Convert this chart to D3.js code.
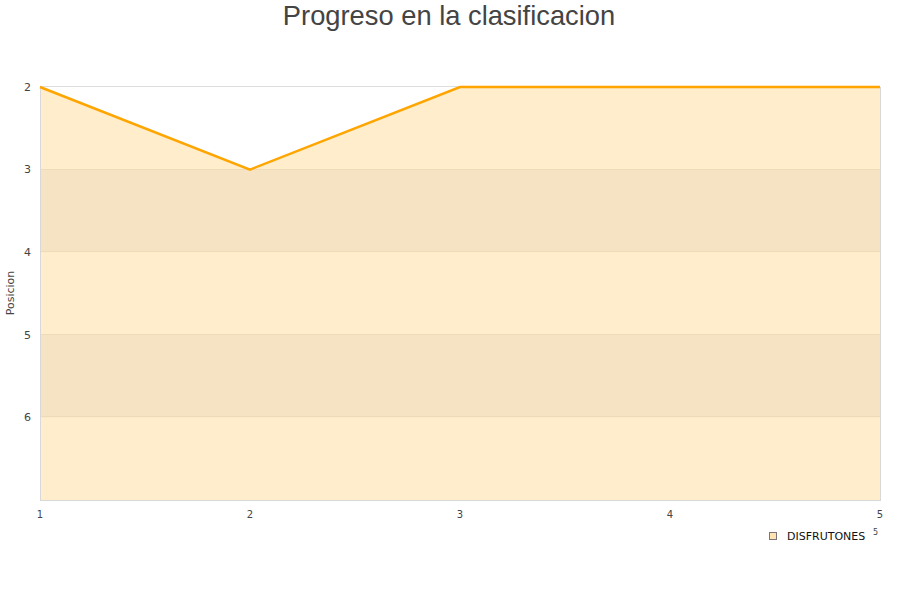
<!DOCTYPE html>
<html>
<head>
<meta charset="utf-8">
<script src="https://cdn.jsdelivr.net/npm/d3@7"></script>
<style>
  body { margin: 0; background: #fff; }
</style>
</head>
<body>
<div id="chart"></div>
<script>
var jornadas = [1, 2, 3, 4, 5];
var posiciones = [2, 3, 2, 2, 2];
var serieNombre = "DISFRUTONES";
var yTicks = [2, 3, 4, 5, 6];
var yDomain = [2, 7];

var width = 900, height = 600;
var margin = { top: 87, right: 20, bottom: 100, left: 40 };
var plotW = width - margin.left - margin.right,
    plotH = height - margin.top - margin.bottom;

var svg = d3.select("#chart").append("svg")
    .attr("width", width)
    .attr("height", height);

svg.append("text")
    .attr("x", 449)
    .attr("y", 25)
    .attr("text-anchor", "middle")
    .style("font-family", "'Liberation Sans', Arial, sans-serif")
    .style("font-size", "27.3px")
    .style("fill", "#444")
    .text("Progreso en la clasificacion");

var g = svg.append("g").attr("transform", "translate(" + margin.left + "," + margin.top + ")");

var x = d3.scaleLinear().domain(d3.extent(jornadas)).range([0, plotW]);
var y = d3.scaleLinear().domain(yDomain).range([0, plotH]);

var data = jornadas.map(function (j, i) { return { j: j, p: posiciones[i] }; });

// area under the line
var area = d3.area()
    .x(function (d) { return x(d.j); })
    .y0(y(yDomain[1]))
    .y1(function (d) { return y(d.p); });

g.append("path")
    .datum(data)
    .attr("d", area)
    .attr("fill", "#ffedcc");

// darker bands (3-4, 5-6), only inside the filled area
var clip = g.append("clipPath").attr("id", "areaclip");
clip.append("path").datum(data).attr("d", area);

g.append("g").attr("clip-path", "url(#areaclip)")
    .selectAll("rect")
    .data(yTicks.filter(function (t, i) { return i % 2 == 1; }))
    .enter().append("rect")
    .attr("x", 0)
    .attr("width", plotW)
    .attr("y", function (d) { return y(d); })
    .attr("height", function (d) { return y(d + 1) - y(d); })
    .attr("fill", "#f6e3c3");

// grid lines
g.selectAll(".grid")
    .data(yTicks)
    .enter().append("line")
    .attr("class", "grid")
    .attr("x1", 0).attr("x2", plotW)
    .attr("y1", function (d) { return Math.round(y(d)) - 0.5; })
    .attr("y2", function (d) { return Math.round(y(d)) - 0.5; })
    .attr("stroke", function (d) { return d == yDomain[0] ? "#dddddd" : "#eedbb8"; })
    .attr("stroke-width", 1);

// border left / right / bottom
g.append("line").attr("x1", 0.5).attr("x2", 0.5).attr("y1", 0).attr("y2", plotH)
    .attr("stroke", "#d8d8d8");
g.append("line").attr("x1", plotW + 0.5).attr("x2", plotW + 0.5).attr("y1", 0).attr("y2", plotH)
    .attr("stroke", "#d8d8d8");
g.append("line").attr("x1", 0).attr("x2", plotW + 1).attr("y1", plotH + 0.5).attr("y2", plotH + 0.5)
    .attr("stroke", "#d8d8d8");

// line
var line = d3.line()
    .x(function (d) { return x(d.j); })
    .y(function (d) { return y(d.p); });

g.append("path")
    .datum(data)
    .attr("d", line)
    .attr("fill", "none")
    .attr("stroke", "#ffa500")
    .attr("stroke-width", 2.5);

// y tick labels
g.selectAll(".ytick")
    .data(yTicks)
    .enter().append("text")
    .attr("x", -9)
    .attr("y", function (d) { return y(d); })
    .attr("dy", "0.35em")
    .attr("text-anchor", "end")
    .style("font-family", "'DejaVu Sans', sans-serif")
    .style("font-size", "11px")
    .style("fill", "#444")
    .text(function (d) { return d; });

// x tick labels
g.selectAll(".xtick")
    .data(jornadas)
    .enter().append("text")
    .attr("x", function (d) { return x(d); })
    .attr("y", plotH + 18)
    .attr("text-anchor", "middle")
    .style("font-family", "'DejaVu Sans', sans-serif")
    .style("font-size", "10px")
    .style("fill", "#444")
    .text(function (d) { return d; });

// y axis title
svg.append("text")
    .attr("transform", "translate(14,293) rotate(-90)")
    .attr("text-anchor", "middle")
    .style("font-family", "'DejaVu Sans', sans-serif")
    .style("font-size", "11px")
    .style("fill", "#444")
    .text("Posicion");

// legend
var legend = svg.append("g").attr("transform", "translate(769,532)");
legend.append("rect")
    .attr("x", 0.5).attr("y", 0.5)
    .attr("width", 7).attr("height", 7)
    .attr("fill", "#ffe3b3")
    .attr("stroke", "#777")
    .attr("stroke-width", 1);
legend.append("text")
    .attr("x", 18)
    .attr("y", 4)
    .attr("dy", "0.35em")
    .style("font-family", "'DejaVu Sans', sans-serif")
    .style("font-size", "11px")
    .style("fill", "#111")
    .text(serieNombre);
legend.append("text")
    .attr("x", 104)
    .attr("y", 3)
    .style("font-family", "'DejaVu Sans', sans-serif")
    .style("font-size", "8px")
    .style("fill", "#444")
    .text(jornadas[jornadas.length - 1]);
</script>
</body>
</html>
